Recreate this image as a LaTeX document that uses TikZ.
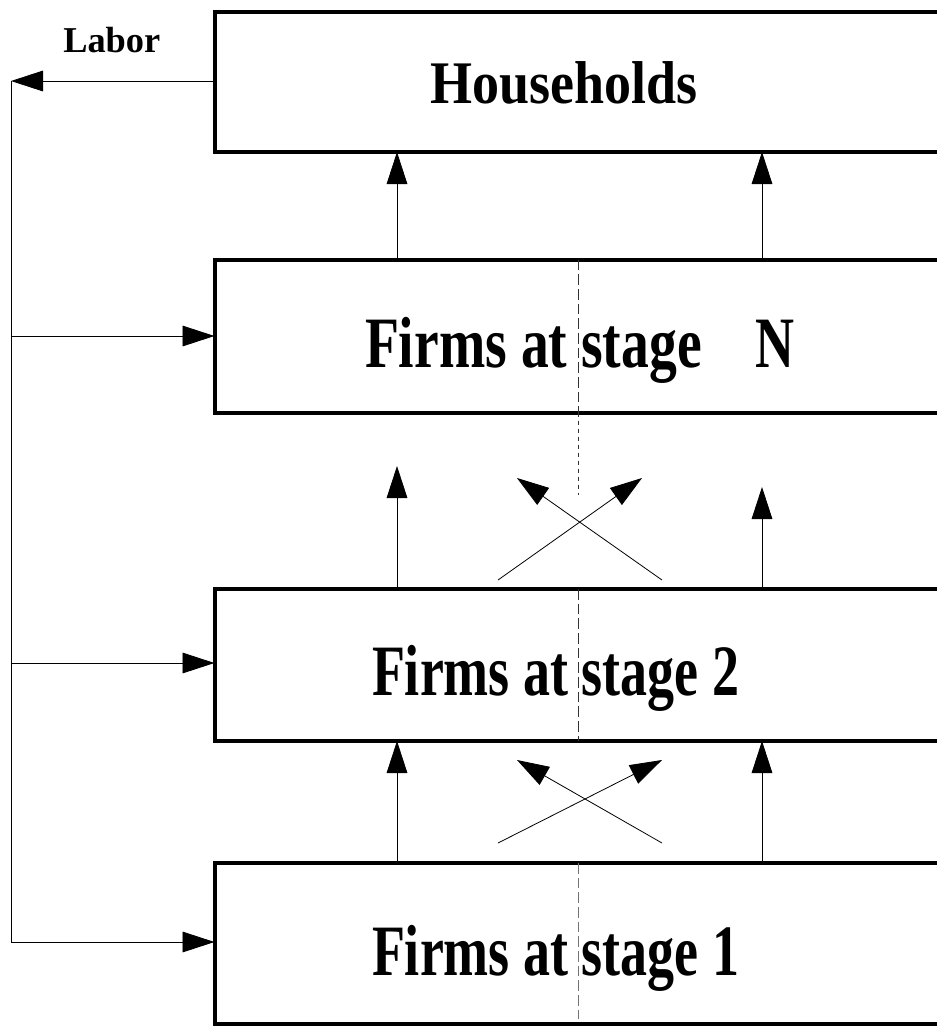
\documentclass[tikz,border=0pt]{standalone}
\usepackage{fontspec}
\setmainfont{Liberation Serif}
\usepackage{graphicx}
\usetikzlibrary{arrows.meta}
\tikzset{
  box/.style={draw, line width=3pt, inner sep=0pt, outer sep=0pt, minimum width=600pt, anchor=north west},
  flow/.style={draw=black, line width=0.6pt, -{Triangle[length=24pt,width=15.5pt]}},
  divider/.style={draw=black!80, line width=0.7pt, dash pattern=on 8pt off 3pt},
  divdot/.style={draw=black!80, line width=0.7pt, dash pattern=on 3pt off 3pt},
  lbl/.style={inner sep=0pt, outer sep=0pt, anchor=base west, font=\bfseries\fontsize{40.5}{48}\selectfont},
}
\begin{document}
\begin{tikzpicture}[x=0.75pt,y=-0.75pt]
\useasboundingbox (0,0) rectangle (937,1026);
\clip (0,0) rectangle (937,1026);
% boxes
\node[box, minimum height=105.4pt] (hh) at (214.5,11.5) {};
\node[box, minimum height=114.75pt] (fN) at (214.5,259.5) {};
\node[box, minimum height=114pt] (f2) at (214.5,589) {};
\node[box, minimum height=120.75pt] (f1) at (214.5,863) {};
% texts
\node[lbl] (thh) at (430,103) {\scalebox{1}[1.12]{Households}};
\node[lbl] (tfN) at (365,367) {\scalebox{1.03}[1.34]{Firms at stage}};
\node[lbl] (tN) at (755,367) {\scalebox{1}[1.34]{N}};
\node[lbl] (tf2) at (372,695) {\scalebox{1}[1.34]{Firms at stage 2}};
\node[lbl] (tf1) at (372,975) {\scalebox{1}[1.34]{Firms at stage 1}};
\node[inner sep=0pt, anchor=base west, font=\bfseries\fontsize{27.3}{32}\selectfont] (labor) at (63,52) {Labor};
% labor loop
\coordinate (lt) at (11,81);
\coordinate (lN) at (11,336);
\coordinate (l2) at (11,663);
\coordinate (l1) at (11,942);
\draw[flow] (hh.west |- lt) -- (lt);
\draw[draw=black, line width=0.6pt] (lt) -- (l1);
\draw[flow] (lN) -- (lN -| fN.west);
\draw[flow] (l2) -- (l2 -| f2.west);
\draw[flow] (l1) -- (l1 -| f1.west);
% vertical flows
\coordinate (xa) at (397,0);
\coordinate (xb) at (762,0);
\draw[flow] (fN.north -| xa) -- (hh.south -| xa);
\draw[flow] (fN.north -| xb) -- (hh.south -| xb);
\draw[flow] (f2.north -| xa) -- (397,466);
\draw[flow] (f2.north -| xb) -- (762,487);
\draw[flow] (f1.north -| xa) -- (f2.south -| xa);
\draw[flow] (f1.north -| xb) -- (f2.south -| xb);
% cross flows
\draw[flow] (498,580) -- (642,478);
\draw[flow] (662,580) -- (517,478);
\draw[flow] (498,843) -- (662,760);
\draw[flow] (662,843) -- (517,760);
% dividers
\coordinate (xd) at (578,0);
\draw[divider] (fN.north -| xd) -- (fN.south -| xd);
\draw[divdot] (fN.south -| xd) -- (578,495);
\draw[divider] (f2.north -| xd) -- (f2.south -| xd);
\draw[divider, draw=black!55] (f1.north -| xd) -- (578,1019);
\end{tikzpicture}
\end{document}
